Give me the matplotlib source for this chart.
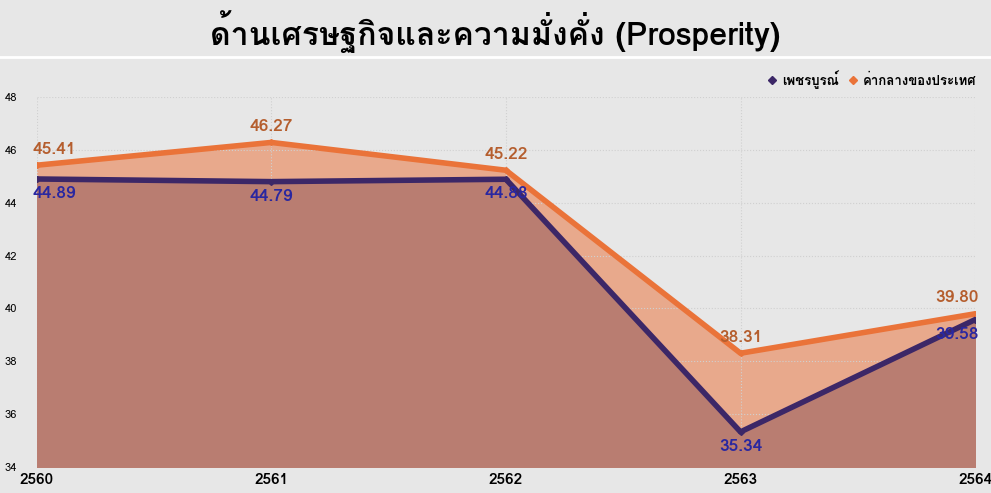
import matplotlib
matplotlib.use('Agg')
import matplotlib.pyplot as plt
from matplotlib import font_manager
from matplotlib.ft2font import FT2Font
from matplotlib.lines import Line2D

# หาฟอนต์ที่มีอักษรไทย
def find_thai_fonts():
    names = []
    for f in font_manager.fontManager.ttflist:
        try:
            if FT2Font(f.fname).get_char_index(ord('ด')) and f.name not in names:
                names.append(f.name)
        except Exception:
            pass
    return names

years = ['2560', '2561', '2562', '2563', '2564']
phetchabun = [44.89, 44.79, 44.88, 35.34, 39.58]
national = [45.41, 46.27, 45.22, 38.31, 39.80]
y_ticks = [34, 36, 38, 40, 42, 44, 46, 48]

plt.rcParams['font.family'] = find_thai_fonts() + ['DejaVu Sans']

bg = '#e7e7e7'
c_nat, c_phe = '#ea7339', '#3c2767'
fig = plt.figure(figsize=(9.91, 4.93), dpi=100, facecolor=bg)
ax = fig.add_axes([0.037, 0.052, 0.947, 0.752])
ax.set_facecolor(bg)

x = list(range(len(years)))
ax.fill_between(x, national, 34, color='#e8a98c', zorder=1)
ax.fill_between(x, phetchabun, 34, color='#b97d71', zorder=2)
ax.plot(x, national, color=c_nat, lw=4, marker='D', ms=3, zorder=3)
ax.plot(x, phetchabun, color=c_phe, lw=4, marker='D', ms=3, zorder=4)

# ป้ายค่า (ขยับจุดแรก/จุดสุดท้ายให้อยู่ในกรอบ)
last = len(years) - 1
for i, (p, n) in enumerate(zip(phetchabun, national)):
    dx = 13 if i == 0 else (-13 if i == last else 0)
    ax.annotate(f'{n:.2f}', (i, n), xytext=(dx, 6), textcoords='offset points',
                ha='center', va='bottom', fontsize=12.5, fontweight='bold',
                color='#b55e2e', zorder=5)
    ax.annotate(f'{p:.2f}', (i, p), xytext=(dx, -5), textcoords='offset points',
                ha='center', va='top', fontsize=12.5, fontweight='bold',
                color='#2a27a0', zorder=5)

ax.set_xlim(0, last)
ax.set_ylim(34, 48)
ax.set_yticks(y_ticks)
ax.set_xticks(x)
ax.set_xticklabels(years, fontsize=11, fontweight='bold')
ax.tick_params(axis='y', labelsize=8, length=0, pad=14)
ax.tick_params(axis='x', length=0, pad=4)
ax.grid(color='#d0d0d0', linestyle=':', lw=0.8)
for s in ax.spines.values():
    s.set_visible(False)

handles = [Line2D([], [], ls='none', marker='D', ms=4, color=c_phe),
           Line2D([], [], ls='none', marker='D', ms=4, color=c_nat)]
ax.legend(handles, ['เพชรบูรณ์', 'ค่ากลางของประเทศ'], loc='lower right',
          bbox_to_anchor=(1.01, 1.0), frameon=False,
          prop={'weight': 'bold', 'size': 9.5},
          handlelength=0.5, handletextpad=0.5, columnspacing=0.8, ncol=2,
          borderaxespad=0.2)

fig.text(0.5, 0.935, 'ด้านเศรษฐกิจและความมั่งคั่ง (Prosperity)', ha='center', va='center',
         fontsize=23, fontweight='bold')
fig.add_artist(Line2D([0, 1], [0.885, 0.885], color='white', lw=2))

fig.savefig('out.png', dpi=100, facecolor=bg)
